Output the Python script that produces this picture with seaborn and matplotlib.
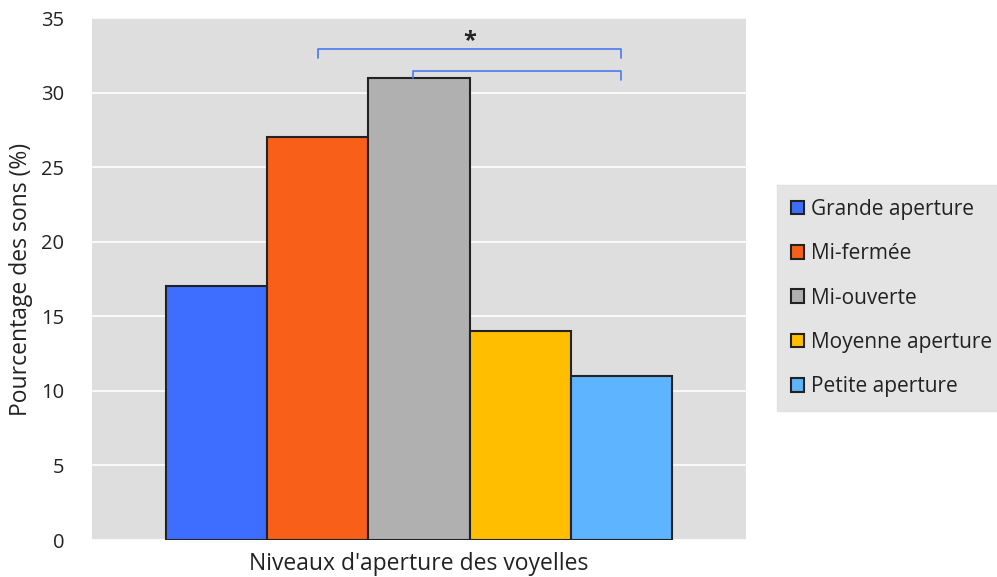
import matplotlib
matplotlib.use("Agg")
import matplotlib.pyplot as plt
import seaborn as sns
import pandas as pd

categories = ["Grande aperture", "Mi-fermée", "Mi-ouverte", "Moyenne aperture", "Petite aperture"]
values = [17, 27, 31, 14, 11]
colors = ["#3D6EFF", "#F8601A", "#B0B0B0", "#FFBF00", "#5EB4FF"]
group = ["Niveaux d'aperture des voyelles"] * len(categories)
yticks = [0, 5, 10, 15, 20, 25, 30, 35]

sns.set_theme(style="white")
plt.rcParams['font.family'] = ['Open Sans', 'DejaVu Sans']

df = pd.DataFrame({"group": group, "cat": categories, "val": values})

fig = plt.figure(figsize=(9.97, 5.77), dpi=100)
ax = fig.add_axes([92/997, 1-540/577, (746-92)/997, (540-18)/577])
ax.set_facecolor("#DEDEDE")

sns.barplot(data=df, x="group", y="val", hue="cat", hue_order=categories,
            palette=colors, edgecolor="#222222", linewidth=1.5, width=0.8,
            saturation=1, ax=ax, legend=True, zorder=3)

ax.set_xlim(-0.518, 0.518)
ax.set_ylim(0, 35)
ax.set_yticks(yticks)
ax.yaxis.grid(True, color="white", linewidth=1.2, zorder=0)
ax.set_axisbelow(True)
for s in ax.spines.values():
    s.set_visible(False)
ax.tick_params(axis='y', length=0, labelsize=14.5, colors="#222222", pad=20)
ax.tick_params(axis='x', length=0, pad=0)
ax.set_xticklabels([])
ax.set_xlabel("Niveaux d'aperture des voyelles", fontsize=16.5, color="#222222", labelpad=9)
ax.set_ylabel("Pourcentage des sons (%)", fontsize=16.5, color="#222222", labelpad=6)

# significance brackets from bar positions
patches = [p for p in ax.patches if p.get_height() > 0][:len(categories)]
centers = [p.get_x() + p.get_width() / 2 for p in patches]
bc = "#4A7AF2"
x1, x2 = centers[1], centers[4]
ax.plot([x1, x1, x2, x2], [32.3, 32.92, 32.92, 32.3], color=bc, lw=1.2, zorder=4, clip_on=False)
xg = centers[2] - 0.01
ax.plot([xg, xg, x2, x2], [31.0, 31.45, 31.45, 30.85], color=bc, lw=1.2, zorder=4, clip_on=False)
ax.text((x1 + x2) / 2, 33.45, "*", ha="center", va="center", fontsize=17,
        fontweight="bold", color="#222222")

leg = ax.legend(loc="center left", bbox_to_anchor=(777/997, 1-298/577),
                bbox_transform=fig.transFigure, frameon=True, fontsize=15,
                handlelength=0.65, handleheight=0.65, handletextpad=0.35,
                labelspacing=1.12, borderpad=0.65, borderaxespad=0)
leg.get_frame().set_facecolor("#DEDEDE")
leg.get_frame().set_edgecolor("#DEDEDE")
leg.get_frame().set_boxstyle("square", pad=0)
for t in leg.get_texts():
    t.set_color("#222222")

fig.savefig("out.png", dpi=100)
